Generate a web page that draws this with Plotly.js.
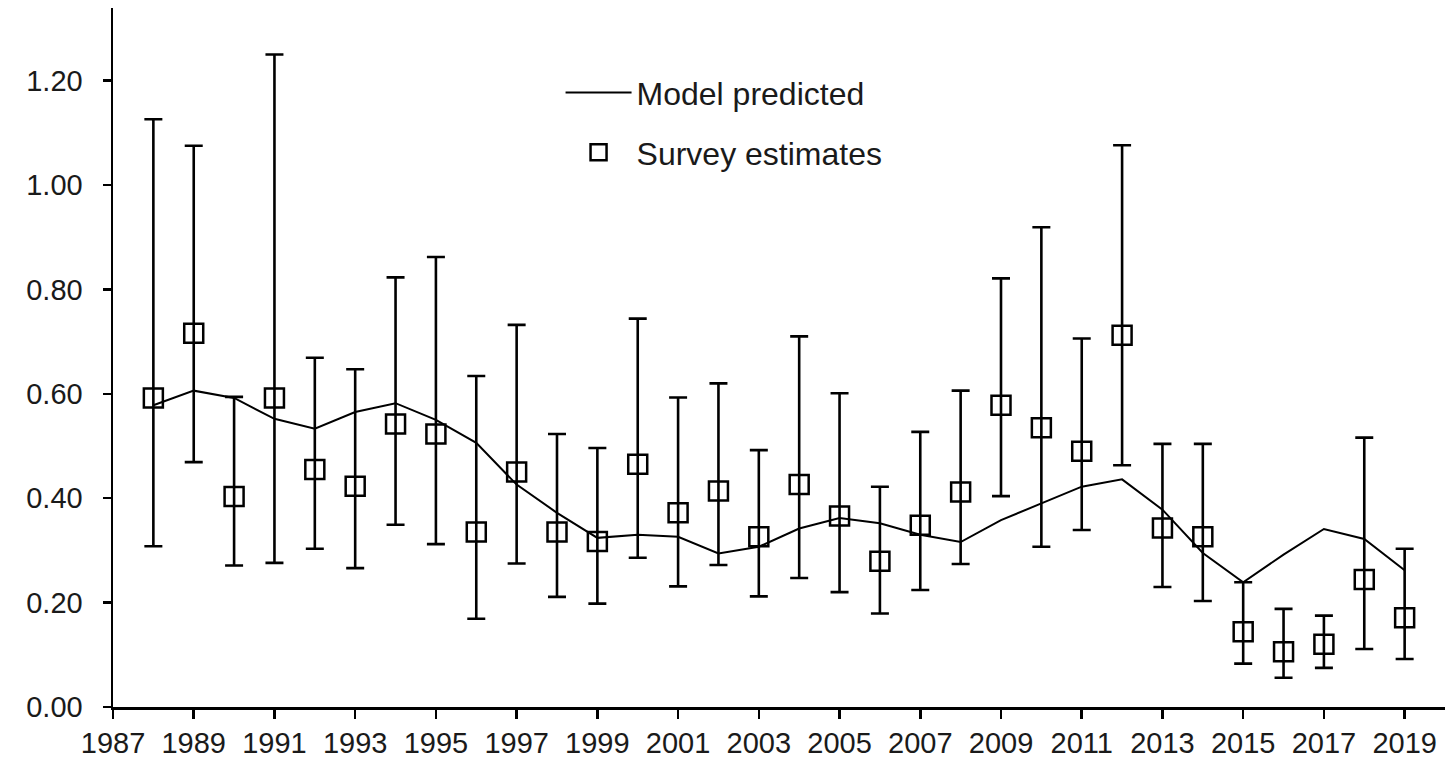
<!DOCTYPE html>
<html>
<head>
<meta charset="utf-8">
<script src="https://cdn.plot.ly/plotly-3.0.1.min.js"></script>
<style>html,body{margin:0;padding:0;background:#fff;}#chart{width:1450px;height:758px;}</style>
</head>
<body>
<div id="chart"></div>
<script>
const years = [1988,1989,1990,1991,1992,1993,1994,1995,1996,1997,1998,1999,2000,2001,2002,2003,2004,2005,2006,2007,2008,2009,2010,2011,2012,2013,2014,2015,2016,2017,2018,2019];
const modelPredicted = [0.578,0.606,0.592,0.552,0.533,0.565,0.582,0.550,0.506,0.426,0.372,0.324,0.330,0.326,0.294,0.307,0.342,0.362,0.352,0.330,0.316,0.358,0.390,0.422,0.436,0.378,0.295,0.239,0.292,0.341,0.322,0.262];
const surveyEstimates = [0.592,0.716,0.403,0.592,0.455,0.423,0.542,0.523,0.335,0.450,0.335,0.317,0.465,0.372,0.414,0.326,0.426,0.366,0.279,0.348,0.412,0.578,0.535,0.490,0.712,0.343,0.326,0.144,0.106,0.120,0.244,0.171];
const surveyUpper = [1.126,1.075,0.594,1.250,0.669,0.647,0.823,0.862,0.634,0.732,0.523,0.496,0.744,0.593,0.620,0.492,0.710,0.601,0.422,0.527,0.606,0.821,0.919,0.706,1.076,0.504,0.504,0.239,0.188,0.175,0.516,0.303];
const surveyLower = [0.308,0.469,0.271,0.276,0.303,0.266,0.349,0.312,0.169,0.275,0.211,0.198,0.286,0.231,0.272,0.212,0.247,0.220,0.179,0.224,0.274,0.404,0.307,0.339,0.463,0.230,0.203,0.083,0.056,0.075,0.111,0.092];
const xTickVals = [1987,1989,1991,1993,1995,1997,1999,2001,2003,2005,2007,2009,2011,2013,2015,2017,2019];
const yTickVals = [0,0.2,0.4,0.6,0.8,1.0,1.2];
const yTickText = ['0.00','0.20','0.40','0.60','0.80','1.00','1.20'];

const errPlus = surveyUpper.map((u,i)=>u - surveyEstimates[i]);
const errMinus = surveyLower.map((l,i)=>surveyEstimates[i] - l);

const FONT = 'Liberation Sans, Arial, sans-serif';

const traces = [
  {
    x: years, y: modelPredicted, type: 'scatter', mode: 'lines',
    name: 'Model predicted',
    line: {color: '#000', width: 2},
    legendgroup: 'a'
  },
  {
    x: years, y: surveyEstimates, type: 'scatter', mode: 'markers',
    name: 'Survey estimates',
    marker: {symbol: 'square-open', size: 19, color: '#000', line: {color: '#000', width: 2.5}},
    error_y: {type: 'data', symmetric: false, array: errPlus, arrayminus: errMinus, color: '#000', thickness: 2.6, width: 9},
    legendgroup: 'b'
  }
];

const layout = {
  width: 1450, height: 758,
  paper_bgcolor: '#fff', plot_bgcolor: '#fff',
  margin: {l: 113, r: 5, t: 8, b: 50.5},
  font: {family: FONT, color: '#1a1a1a', size: 29},
  showlegend: true,
  legend: {
    x: 0.336, y: 0.918, xanchor: 'left', yanchor: 'top',
    bgcolor: 'rgba(0,0,0,0)', borderwidth: 0,
    font: {family: FONT, size: 32, color: '#1a1a1a'},
    itemwidth: 66, tracegroupgap: 15
  },
  xaxis: {
    range: [1987, 2020], tickmode: 'array', tickvals: xTickVals,
    ticks: 'outside', ticklen: 9, tickwidth: 2.5, tickcolor: '#000',
    showline: true, linecolor: '#000', linewidth: 2.5,
    showgrid: false, zeroline: false,
    tickfont: {family: FONT, size: 29, color: '#1a1a1a'}
  },
  yaxis: {
    range: [0, 1.339], tickmode: 'array', tickvals: yTickVals, ticktext: yTickText,
    ticks: 'outside', ticklen: 8, tickwidth: 2.5, tickcolor: '#000',
    showline: true, linecolor: '#000', linewidth: 2.5,
    showgrid: false, zeroline: false,
    ticklabelstandoff: 14,
    tickfont: {family: FONT, size: 29, color: '#1a1a1a'}
  }
};

Plotly.newPlot('chart', traces, layout, {displayModeBar: false, staticPlot: true});
</script>
</body>
</html>
